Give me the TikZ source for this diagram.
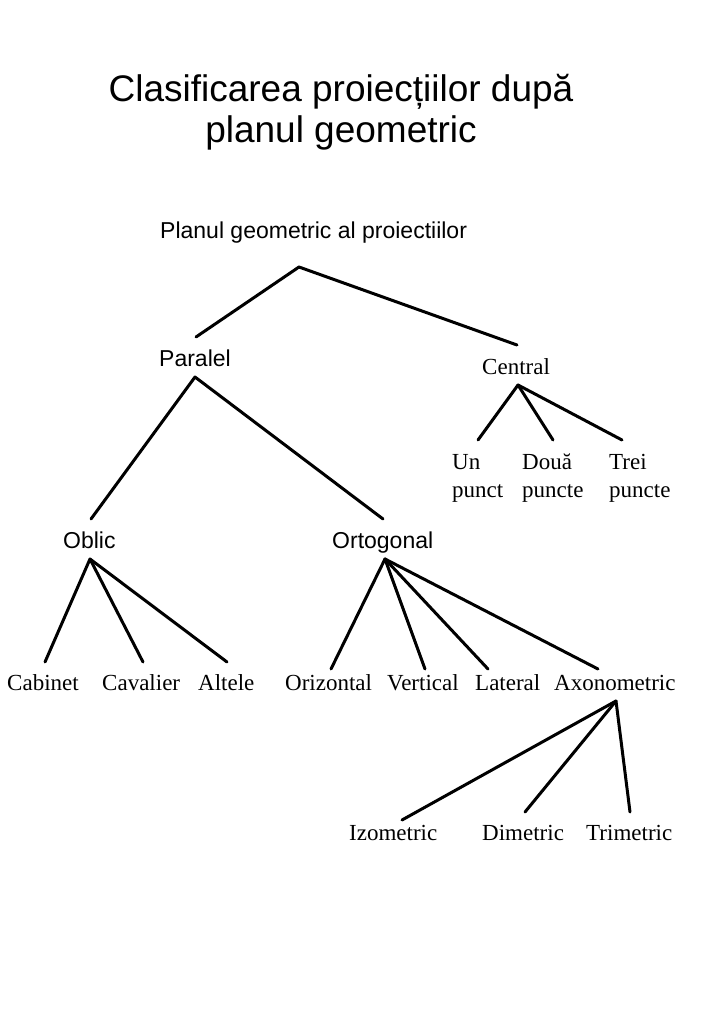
\documentclass[tikz,border=0pt]{standalone}
\usepackage{fontspec}
\setmainfont{Liberation Serif}
\newfontfamily\sansf{Liberation Sans}
\begin{document}
\begin{tikzpicture}[x=1pt,y=-1pt,
  conn/.style={line width=3pt,line cap=round,line join=round},
  titlelbl/.style={inner sep=0pt,align=center,font=\sansf\fontsize{37}{41}\selectfont},
  sanslbl/.style={inner sep=0pt,anchor=base west,font=\sansf\fontsize{23}{28}\selectfont},
  seriflbl/.style={inner sep=0pt,anchor=base west,align=left,font=\fontsize{23}{28}\selectfont}]
\useasboundingbox[fill=white] (0,0) rectangle (708,1024);
% title (base anchor = baseline of the last line)
\node[titlelbl,anchor=base] (title) at (341,143) {Clasificarea proiecțiilor după\\planul geometric};
% labels
\node[sanslbl] (root) at (160,239) {Planul geometric al proiectiilor};
\node[sanslbl] (paralel) at (159,366) {Paralel};
\node[seriflbl] (central) at (482,374) {Central};
\node[seriflbl] (un) at (452,497) {Un\\punct};
\node[seriflbl] (doua) at (522,497) {Două\\puncte};
\node[seriflbl] (trei) at (609,497) {Trei\\puncte};
\node[sanslbl] (oblic) at (63,548) {Oblic};
\node[sanslbl] (ortogonal) at (332,548) {Ortogonal};
\node[seriflbl] (cabinet) at (7,690) {Cabinet};
\node[seriflbl] (cavalier) at (102,690) {Cavalier};
\node[seriflbl] (altele) at (198,690) {Altele};
\node[seriflbl] (orizontal) at (285,690) {Orizontal};
\node[seriflbl] (vertical) at (387,690) {Vertical};
\node[seriflbl] (lateral) at (475,690) {Lateral};
\node[seriflbl] (axonometric) at (554,690) {Axonometric};
\node[seriflbl] (izometric) at (349,840) {Izometric};
\node[seriflbl] (dimetric) at (482,840) {Dimetric};
\node[seriflbl] (trimetric) at (586,840) {Trimetric};
% connector end points
\coordinate (rJ) at (299,267);
\coordinate (rL) at (196,337);
\coordinate (rR) at (517,345);
\coordinate (pJ) at (195,377);
\coordinate (pL) at (91,519);
\coordinate (pR) at (383,519);
\coordinate (cJ) at (518,385);
\coordinate (c1) at (478,440);
\coordinate (c2) at (553,440);
\coordinate (c3) at (622,440);
\coordinate (oJ) at (90,559);
\coordinate (o1) at (45,662);
\coordinate (o2) at (143,662);
\coordinate (o3) at (227,662);
\coordinate (tJ) at (385,559);
\coordinate (t1) at (331,669);
\coordinate (t2) at (425,669);
\coordinate (t3) at (488,669);
\coordinate (t4) at (598,669);
\coordinate (aJ) at (616,701);
\coordinate (a1) at (402,820);
\coordinate (a2) at (525,812);
\coordinate (a3) at (630,812);
% connectors
\draw[conn] (rL) -- (rJ) -- (rR);
\draw[conn] (pL) -- (pJ) -- (pR);
\draw[conn] (cJ) -- (c1);
\draw[conn] (cJ) -- (c2);
\draw[conn] (cJ) -- (c3);
\draw[conn] (oJ) -- (o1);
\draw[conn] (oJ) -- (o2);
\draw[conn] (oJ) -- (o3);
\draw[conn] (tJ) -- (t1);
\draw[conn] (tJ) -- (t2);
\draw[conn] (tJ) -- (t3);
\draw[conn] (tJ) -- (t4);
\draw[conn] (aJ) -- (a1);
\draw[conn] (aJ) -- (a2);
\draw[conn] (aJ) -- (a3);
\end{tikzpicture}
\end{document}
